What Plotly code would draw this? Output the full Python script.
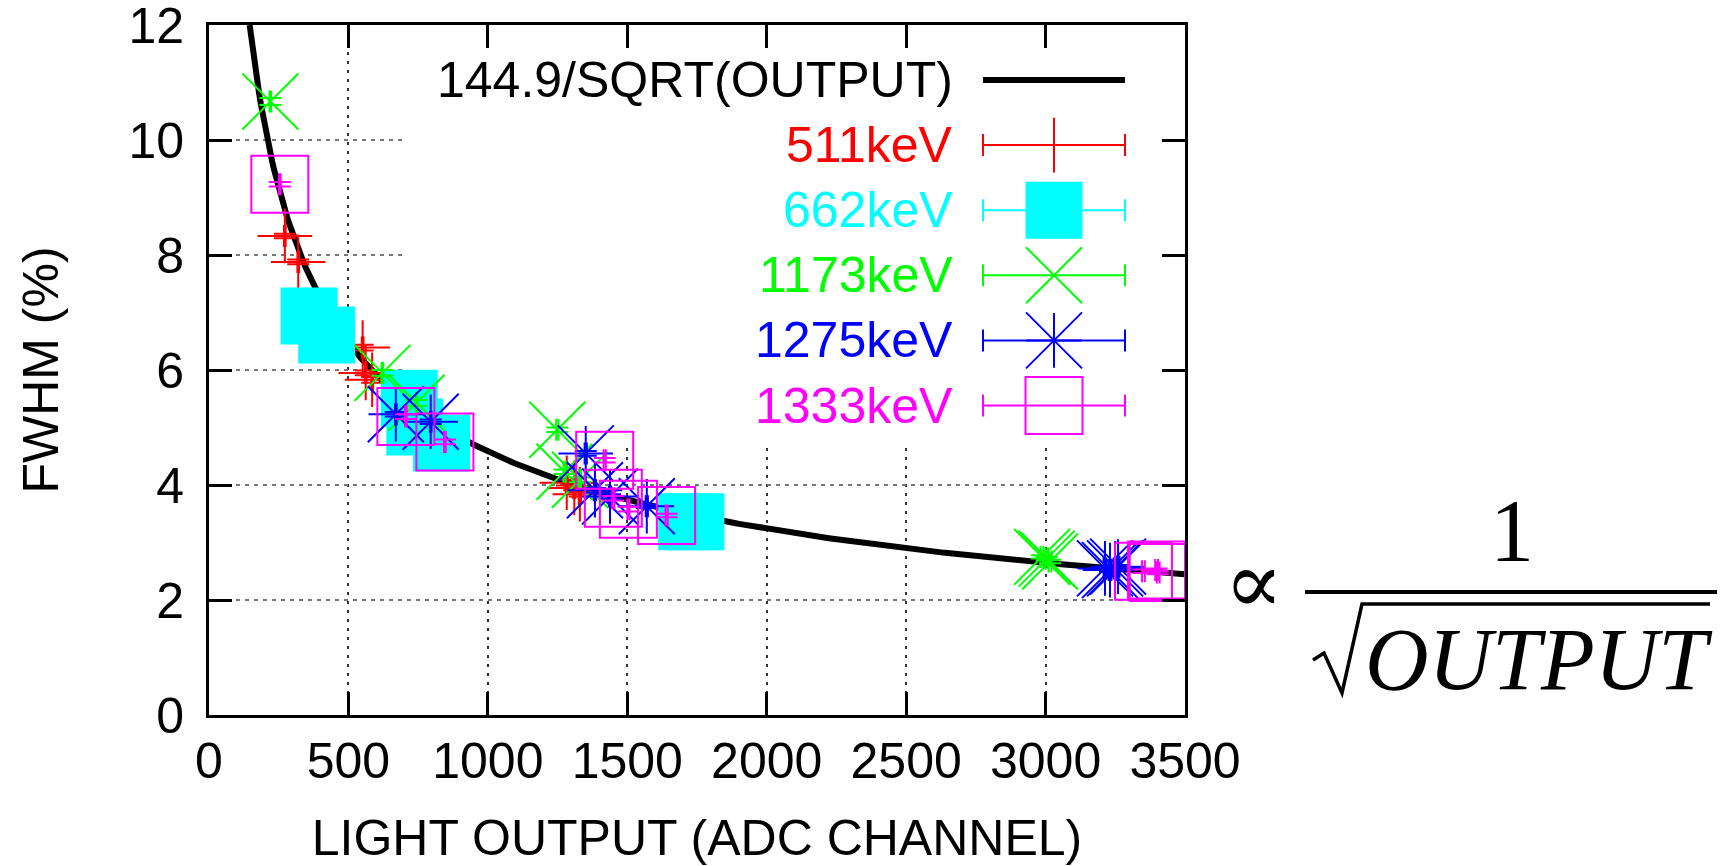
import numpy as np
import plotly.graph_objects as go

# ---------------- data ----------------
fit_coef = 144.9
fit_label = "144.9/SQRT(OUTPUT)"

series_names = ["511keV", "662keV", "1173keV", "1275keV", "1333keV"]

x511 = [272, 320, 551, 562, 585, 1283, 1310, 1330]
y511 = [8.33, 7.88, 6.39, 5.95, 5.83, 4.04, 3.95, 3.84]
dx511 = [3, 3, 3, 3, 3, 4, 4, 4]
dy511 = [0.04, 0.04, 0.05, 0.04, 0.05, 0.05, 0.04, 0.04]

x662 = [359, 422, 718, 738, 834, 1713, 1746]
y662 = [6.94, 6.61, 5.51, 5.01, 4.73, 3.36, 3.36]
dx662 = [3, 3, 3, 3, 3, 4, 4]
dy662 = [0.05, 0.05, 0.04, 0.04, 0.04, 0.03, 0.03]

x1173 = [220, 622, 744, 1249, 1275, 1330, 2987, 3004, 3016]
y1173 = [10.67, 5.95, 5.43, 4.96, 4.23, 4.09, 2.75, 2.72, 2.67]
dx1173 = [3, 3, 3, 4, 4, 4, 5, 5, 5]
dy1173 = [0.06, 0.05, 0.05, 0.04, 0.04, 0.04, 0.03, 0.03, 0.03]

x1275 = [670, 795, 1351, 1384, 1438, 1570, 3213, 3231, 3249, 3260]
y1275 = [5.23, 5.10, 4.55, 3.91, 3.80, 3.63, 2.55, 2.52, 2.55, 2.58]
dx1275 = [3, 3, 4, 4, 4, 4, 5, 5, 5, 5]
dy1275 = [0.04, 0.04, 0.04, 0.04, 0.04, 0.03, 0.03, 0.03, 0.03, 0.03]

x1333 = [254, 706, 846, 1419, 1450, 1504, 1641, 3351, 3398, 3404]
y1333 = [9.23, 5.19, 4.75, 4.43, 3.77, 3.58, 3.47, 2.50, 2.52, 2.48]
dx1333 = [3, 3, 3, 4, 4, 4, 4, 5, 5, 5]
dy1333 = [0.04, 0.04, 0.04, 0.04, 0.04, 0.04, 0.03, 0.03, 0.03, 0.03]

x_ticks = [0, 500, 1000, 1500, 2000, 2500, 3000, 3500]
y_ticks = [0, 2, 4, 6, 8, 10, 12]

# ---------------- styling / layout constants ----------------
FIG_W, FIG_H = 1727, 866
L, R, T, B = 209, 1185, 25, 715          # plot-area edges in px
PW, PH = R - L, B - T
SANS = "Liberation Sans, Arial, Helvetica, sans-serif"
SERIF = "Liberation Serif, Times New Roman, DejaVu Serif, serif"
COLORS = ["#ff0000", "#00ffff", "#00ff00", "#0000ff", "#ff00ff"]


def px2x(p):
    return (p - L) / PW


def py2y(p):
    return (B - p) / PH


fig = go.Figure()

# fitted curve
x_fit = np.linspace(fit_coef ** 2 / 144.0, 3500, 500)
fig.add_trace(go.Scatter(x=x_fit, y=fit_coef / np.sqrt(x_fit), mode="lines",
                         line=dict(color="black", width=6),
                         hoverinfo="skip", showlegend=False, name=fit_label))

# marker definitions: list of (symbol, size)
marker_defs = [
    [("cross-thin-open", 39)],
    [("square", 57)],
    [("x-thin-open", 56)],
    [("cross-thin-open", 39), ("x-thin-open", 56)],
    [("square-open", 57)],
]

data = [(x511, y511, dx511, dy511), (x662, y662, dx662, dy662),
        (x1173, y1173, dx1173, dy1173), (x1275, y1275, dx1275, dy1275),
        (x1333, y1333, dx1333, dy1333)]

for (xs, ys, dxs, dys), name, col, mdefs in zip(data, series_names, COLORS, marker_defs):
    for k, (sym, sz) in enumerate(mdefs):
        tr = dict(x=xs, y=ys, mode="markers", name=name, showlegend=False,
                  cliponaxis=False,
                  marker=dict(symbol=sym, size=sz, color=col,
                              line=dict(color=col, width=0 if sym == "square" else 2)))
        if k == 0:
            tr["error_x"] = dict(type="data", array=dxs, color=col, thickness=2, width=11)
            tr["error_y"] = dict(type="data", array=dys, color=col, thickness=2, width=11)
        fig.add_trace(go.Scatter(**tr))

# ---------------- custom key (text left, sample right, like gnuplot) ----------------
shapes = []
annotations = []
key_rows_px = [80 + 65.1 * i for i in range(6)]
key_text_right = 955
key_s0, key_s1 = 983, 1125
key_mid = (key_s0 + key_s1) / 2

# opaque key background hides the grid
shapes.append(dict(type="rect", xref="x", yref="y", x0=708, x1=3500, y0=4.73, y1=12,
                   fillcolor="white", line=dict(width=0), layer="between"))

labels = [fit_label] + series_names
label_cols = ["black"] + COLORS
for i, (lab, col, ry) in enumerate(zip(labels, label_cols, key_rows_px)):
    annotations.append(dict(xref="paper", yref="paper", x=px2x(key_text_right), y=py2y(ry),
                            xanchor="right", yanchor="middle", text=lab, showarrow=False,
                            font=dict(family=SANS, size=50, color=col)))
    if i == 0:
        shapes.append(dict(type="line", xref="paper", yref="paper",
                           x0=px2x(key_s0), x1=px2x(key_s1), y0=py2y(ry), y1=py2y(ry),
                           line=dict(color="black", width=6)))
    else:
        shapes.append(dict(type="line", xref="paper", yref="paper",
                           x0=px2x(key_s0), x1=px2x(key_s1), y0=py2y(ry), y1=py2y(ry),
                           line=dict(color=col, width=2)))
        for xe in (key_s0, key_s1):
            shapes.append(dict(type="line", xref="paper", yref="paper",
                               x0=px2x(xe), x1=px2x(xe), y0=py2y(ry - 11), y1=py2y(ry + 11),
                               line=dict(color=col, width=2)))

for i, (col, mdefs) in enumerate(zip(COLORS, marker_defs)):
    ry = key_rows_px[i + 1]
    for sym, sz in mdefs:
        fig.add_trace(go.Scatter(x=[px2x(key_mid)], y=[py2y(ry)], xaxis="x2", yaxis="y2",
                                 mode="markers", showlegend=False, hoverinfo="skip",
                                 cliponaxis=False,
                                 marker=dict(symbol=sym, size=sz, color=col,
                                             line=dict(color=col, width=0 if sym == "square" else 2))))

# ---------------- proportionality formula on the right ----------------
annotations.append(dict(xref="paper", yref="paper", x=px2x(1254), y=py2y(583),
                        xanchor="center", yanchor="middle", text="\u221d", showarrow=False,
                        font=dict(family=SERIF, size=88, color="black")))
annotations.append(dict(xref="paper", yref="paper", x=px2x(1512), y=py2y(530),
                        xanchor="center", yanchor="middle", text="1", showarrow=False,
                        font=dict(family=SERIF, size=88, color="black")))
annotations.append(dict(xref="paper", yref="paper", x=px2x(1539), y=py2y(659),
                        xanchor="center", yanchor="middle", text="<i>OUTPUT</i>", showarrow=False,
                        font=dict(family=SERIF, size=88, color="black")))
shapes.append(dict(type="line", xref="paper", yref="paper",
                   x0=px2x(1305), x1=px2x(1717), y0=py2y(592), y1=py2y(592),
                   line=dict(color="black", width=4)))
sqrt_pts = [(1313, 660), (1324, 653), (1342, 693), (1362, 604), (1710, 604)]
path = "M " + " L ".join(f"{px2x(a):.5f},{py2y(b):.5f}" for a, b in sqrt_pts)
shapes.append(dict(type="path", xref="paper", yref="paper", path=path,
                   line=dict(color="black", width=3.5)))

axis_common = dict(showline=True, linecolor="black", linewidth=3, mirror="ticks",
                   ticks="inside", ticklen=23, tickwidth=2.5, tickcolor="black",
                   showgrid=True, gridwidth=1.5, zeroline=False, automargin=False,
                   ticklabeloverflow="allow",
                   tickfont=dict(family=SANS, size=50, color="black"))

fig.update_layout(
    width=FIG_W, height=FIG_H,
    margin=dict(l=L, r=FIG_W - R, t=T, b=FIG_H - B),
    paper_bgcolor="white", plot_bgcolor="white",
    showlegend=False,
    xaxis=dict(range=[0, 3500], tickvals=x_ticks, ticktext=[str(v) for v in x_ticks],
               gridcolor="#333333", griddash="3px,6px", ticklabelstandoff=0,
               title=dict(text="LIGHT OUTPUT (ADC CHANNEL)", standoff=68,
                          font=dict(family=SANS, size=50, color="black")),
               **axis_common),
    yaxis=dict(range=[0, 12], tickvals=y_ticks, ticktext=[str(v) for v in y_ticks],
               gridcolor="#777777", griddash="4px,5px", ticklabelstandoff=12,
               title=dict(text="FWHM (%)", standoff=54,
                          font=dict(family=SANS, size=50, color="black")),
               **axis_common),
    xaxis2=dict(overlaying="x", range=[0, 1], visible=False),
    yaxis2=dict(overlaying="y", range=[0, 1], visible=False),
    shapes=shapes,
    annotations=annotations,
)

fig.write_html("out.html")
